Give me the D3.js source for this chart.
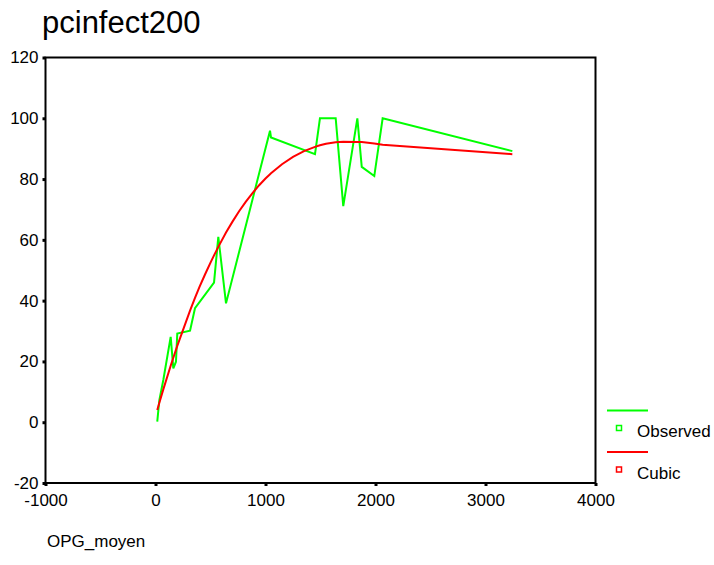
<!DOCTYPE html>
<html>
<head>
<meta charset="utf-8">
<script src="https://cdn.jsdelivr.net/npm/d3@7"></script>
<style>
  body { margin: 0; background: #fff; }
  svg text { font-family: "Liberation Sans", Arial, sans-serif; fill: #000; }
</style>
</head>
<body>
<svg id="chart" width="714" height="565"></svg>
<script>
// observed points
var obsX = [16, 35, 71, 138, 162, 186, 198, 314, 359, 532, 571, 641, 1041, 1050, 1450, 1495, 1638, 1707, 1835, 1875, 1989, 2065, 3244];
var obsY = [0.2, 7.3, 13.9, 28.1, 17.7, 19.9, 29.2, 30.1, 37.5, 45.9, 61.0, 39.1, 95.9, 93.7, 88.2, 100, 100, 71.1, 100, 84.0, 81.0, 100, 89.2];
// cubic fit line
var fitX = [16, 35, 71, 138, 162, 186, 198, 314, 359, 400, 450, 500, 532, 571, 641, 700, 760, 820, 880, 940, 1000, 1041, 1050, 1150, 1250, 1350, 1450, 1495, 1550, 1638, 1707, 1835, 1875, 1989, 2065, 3244];
var fitY = [4.0, 6.4, 10.8, 18.6, 21.2, 23.8, 25.1, 36.7, 40.9, 44.5, 48.6, 52.5, 54.9, 57.7, 62.4, 66.0, 69.4, 72.5, 75.3, 77.9, 80.2, 81.6, 81.9, 84.9, 87.3, 89.2, 90.6, 91.1, 91.6, 92.1, 92.3, 92.2, 92.2, 91.7, 91.3, 88.2];

var xTicks = [-1000, 0, 1000, 2000, 3000, 4000];
var yTicks = [-20, 0, 20, 40, 60, 80, 100, 120];

drawChart();

function drawChart(){
  var svg = d3.select("#chart");
  var plotL = 45.5, plotR = 595.5, plotT = 57.5, plotB = 483;

  var x = d3.scaleLinear().domain([-1000, 4000]).range([plotL, plotR]);
  var y = d3.scaleLinear().domain([-20, 120]).range([plotB, plotT]);
  var fmt = function(d){ return String(d); }; // plain hyphen for negatives

  // title
  svg.append("text")
    .attr("x", 42).attr("y", 33)
    .style("font-size", "31px")
    .text("pcinfect200");

  // frame
  svg.append("rect")
    .attr("x", plotL).attr("y", plotT)
    .attr("width", plotR - plotL).attr("height", plotB - plotT)
    .attr("fill", "none").attr("stroke", "#000").attr("stroke-width", 2);

  // y axis
  var yAxis = svg.append("g")
    .attr("transform", "translate(" + plotL + ",0)")
    .call(d3.axisLeft(y).tickValues(yTicks).tickSize(3).tickPadding(4).tickFormat(fmt));
  yAxis.select(".domain").remove();
  yAxis.selectAll(".tick line").attr("stroke-width", 3);
  yAxis.selectAll("text").style("font-size", "17px");

  // x axis
  var xAxis = svg.append("g")
    .attr("transform", "translate(0," + plotB + ")")
    .call(d3.axisBottom(x).tickValues(xTicks).tickSize(3).tickPadding(8).tickFormat(fmt));
  xAxis.select(".domain").remove();
  xAxis.selectAll(".tick line").attr("stroke-width", 3);
  xAxis.selectAll("text").style("font-size", "17px");

  // x axis title
  svg.append("text")
    .attr("x", 47).attr("y", 547)
    .style("font-size", "17px")
    .text("OPG_moyen");

  var obs = obsX.map(function(d, i){ return [d, obsY[i]]; });
  var fit = fitX.map(function(d, i){ return [d, fitY[i]]; });

  var line = d3.line()
    .x(function(d){ return x(d[0]); })
    .y(function(d){ return y(d[1]); });

  svg.append("path")
    .datum(obs)
    .attr("d", line)
    .attr("fill", "none")
    .attr("stroke", "#00ff00")
    .attr("stroke-width", 2);

  svg.append("path")
    .datum(fit)
    .attr("d", line)
    .attr("fill", "none")
    .attr("stroke", "#ff0000")
    .attr("stroke-width", 2);

  // legend
  var legend = [
    {name: "Observed", color: "#00ff00"},
    {name: "Cubic", color: "#ff0000"}
  ];
  var lg = svg.append("g").selectAll("g")
    .data(legend).enter().append("g")
    .attr("transform", function(d, i){ return "translate(0," + (i * 41.5) + ")"; });
  lg.append("line")
    .attr("x1", 607).attr("x2", 648).attr("y1", 410.5).attr("y2", 410.5)
    .attr("stroke", function(d){ return d.color; }).attr("stroke-width", 2);
  lg.append("rect")
    .attr("x", 616.5).attr("y", 425.5).attr("width", 5).attr("height", 5)
    .attr("fill", "none")
    .attr("stroke", function(d){ return d.color; }).attr("stroke-width", 1.5);
  lg.append("text")
    .attr("x", 637).attr("y", 437)
    .style("font-size", "17px")
    .text(function(d){ return d.name; });
}
</script>
</body>
</html>
